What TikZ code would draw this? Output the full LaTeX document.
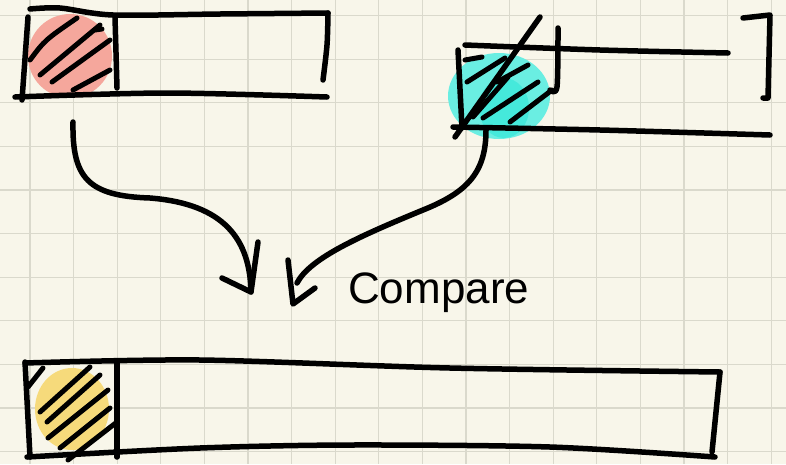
\documentclass[tikz,border=0pt]{standalone}
\usepackage{fontspec}
\setmainfont{Liberation Sans}
\definecolor{paper}{HTML}{F8F6EA}
\definecolor{gridgray}{HTML}{DAD9CC}
\definecolor{salmon}{HTML}{F5A79C}
\definecolor{aqua}{HTML}{6AEEE2}
\definecolor{aquadeep}{HTML}{45E9DB}
\definecolor{butter}{HTML}{F6DA7B}

\begin{document}
\begin{tikzpicture}[x=1pt, y=-1pt,
        ink/.style={
            draw=black,
            line width=5.5pt,
            line cap=round,
            line join=round
        },
        hatch/.style={
            draw=black,
            line width=5pt,
            line cap=round
        },
        gridline/.style={
            draw=gridgray,
            line width=1.2pt
        },
        word/.style={
            font=\fontsize{44}{44}\selectfont,
            inner sep=0pt
        }
    ]
        % paper
        \fill[paper] (0,0) rectangle (786,464);
        \useasboundingbox (0,0) rectangle (786,464);
        \foreach \i in {0,...,17}
            \draw[gridline] ({29.9+43.6*\i},0) -- ({29.9+43.6*\i},464);
        \foreach \j in {0,...,10}
            \draw[gridline] (0,{15.6+43.6*\j}) -- (786,{15.6+43.6*\j});

        % colour blobs
        \fill[salmon] (70,56) ellipse [x radius=42, y radius=42];
        \fill[aqua] (499,96) ellipse [x radius=51, y radius=43];
        \fill[aquadeep] (504,108) ellipse [x radius=25, y radius=30];
        \fill[butter] (72,409) ellipse [x radius=37, y radius=41];

        % first array
        \draw[ink] plot[smooth] coordinates {(30,9) (60,8) (113,15) (220,14) (328,13)};
        \draw[ink] plot[smooth] coordinates {(328,13) (327,45) (323,80)};
        \draw[ink] (28,17) -- (22,100);
        \draw[ink] plot[smooth] coordinates {(15,97) (167,93) (327,97)};
        \draw[ink] (115,17) -- (117,88);
        \draw[hatch] (30,60) .. controls (45,40) .. (77,18);
        \draw[hatch] (40,75) -- (100,25);
        \draw[hatch] (52,82) -- (110,40);
        \draw[hatch] (73,90) -- (110,70);
        \draw[hatch] (95,30) -- (102,29);

        % second array
        \draw[ink] plot[smooth] coordinates {(465,45) (600,50) (728,53)};
        \draw[ink] (458,50) -- (462,128);
        \draw[ink] plot[smooth] coordinates {(453,127) (600,130) (770,135)};
        \draw[ink] plot[smooth] coordinates {(558,28) (557,87) (550,90)};
        \draw[ink] (743,18) -- (770,15) -- (768,98) -- (763,98);
        \draw[ink] (455,137) -- (540,17);
        \draw[hatch] (465,60) -- (482,57);
        \draw[hatch] (467,82) -- (505,58);
        \draw[hatch] (497,82) -- (528,65);
        \draw[hatch] (473,117) -- (508,77);
        \draw[hatch] (483,118) -- (538,82);
        \draw[hatch] (510,122) -- (552,90);

        % merged array
        \draw[ink] plot[smooth] coordinates {(25,363) (200,360) (450,368) (720,372)};
        \draw[ink] (25,362) -- (30,457);
        \draw[ink] plot[smooth] coordinates {(27,457) (200,448) (350,445) (550,447) (715,457)};
        \draw[ink] (720,372) -- (712,452);
        \draw[ink] (117,362) -- (117,457);
        \draw[hatch] (28,387) -- (43,368);
        \draw[hatch] (40,412) -- (90,367);
        \draw[hatch] (47,422) -- (100,375);
        \draw[hatch] (48,438) -- (108,390);
        \draw[hatch] (60,448) -- (110,408);
        \draw[hatch] (68,460) -- (117,422);

        % arrows
        \coordinate (srcA) at (73,122);
        \coordinate (tipA) at (251,292);
        \coordinate (srcB) at (486,130);
        \coordinate (tipB) at (293,304);
        \draw[ink] (srcA) .. controls (72,178) and (88,196) .. (150,198)
            .. controls (225,204) and (250,240) .. (tipA);
        \draw[ink] (222,278) -- (tipA) -- (258,242);
        \draw[ink] (srcB) .. controls (486,172) and (468,192) .. (423,210)
            .. controls (360,236) and (310,258) .. (297,283);
        \draw[ink] (288,260) -- (tipB) -- (315,288);

        \node[word, anchor=base west] (cmp) at (348,303) {Compare};
    \end{tikzpicture}
\end{document}
